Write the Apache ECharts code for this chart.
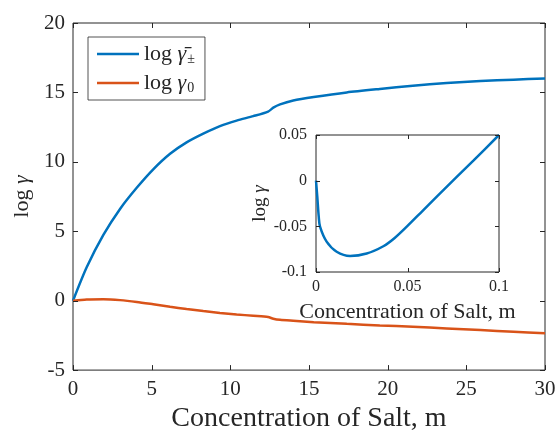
<!DOCTYPE html>
<html>
<head>
<meta charset="utf-8">
<script src="https://cdn.jsdelivr.net/npm/echarts@6/dist/echarts.min.js"></script>
<style>
  html, body { margin: 0; padding: 0; background: #fff; }
  #chart { width: 559px; height: 438px; }
</style>
</head>
<body>
<div id="chart"></div>
<script>
// Salt concentration (m) and activity coefficients over the full range
const concentration = [0, 0.87, 1.93, 2.99, 4.05, 5.1, 6.17, 7.22, 8.28, 9.34, 10.4, 11.46, 12.4, 12.73, 13.16, 14, 15.3, 17.4, 19.5, 21.6, 23.75, 25.9, 28, 30];
const logGammaMean = [0, 2.41, 4.74, 6.61, 8.13, 9.46, 10.58, 11.4, 12.03, 12.57, 12.97, 13.29, 13.62, 13.9, 14.14, 14.42, 14.67, 15.0, 15.25, 15.48, 15.68, 15.82, 15.92, 16.0];
const logGammaNeutral = [0, 0.08, 0.1, 0.04, -0.09, -0.26, -0.44, -0.6, -0.75, -0.88, -0.99, -1.09, -1.18, -1.3, -1.38, -1.45, -1.55, -1.67, -1.78, -1.88, -2.0, -2.12, -2.24, -2.35];

// Dilute region shown in the inset
const insetConcentration = [0, 0.0007, 0.0015, 0.0022, 0.0058, 0.0113, 0.0186, 0.0277, 0.0368, 0.043, 0.0496, 0.058, 0.0678, 0.086, 0.1];
const insetLogGamma = [0, -0.0175, -0.0395, -0.0504, -0.0668, -0.0778, -0.0825, -0.0798, -0.0718, -0.0628, -0.0504, -0.0335, -0.0138, 0.0219, 0.05];

// Axis ranges: [min, max, interval]
const mainXRange = [0, 30, 5];
const mainYRange = [-5, 20, 5];
const insetXRange = [0, 0.1, 0.05];
const insetYRange = [-0.1, 0.05, 0.05];

// Tick positions (drawn inward on all four sides of each box)
const mainXTicks = [0, 5, 10, 15, 20, 25, 30];
const mainYTicks = [-5, 0, 5, 10, 15, 20];
const insetXTicks = [0, 0.05, 0.1];
const insetYTicks = [-0.1, -0.05, 0, 0.05];

const seriesNames = ['log γ± (mean)', 'log γ0 (neutral)'];

const FONT = 'Liberation Serif';
const INK = '#262626';
const BLUE = '#0072BD';
const ORANGE = '#D95319';

function pairs(xs, ys) { return xs.map((x, i) => [x, ys[i]]); }
function crisp(v) { return Math.round(v) + 0.5; }

// Inward tick marks on both opposite edges, placed through the axis scales
function tickSeries(axisIdx, dir, values, xr, yr, len) {
  const data = dir === 'x'
    ? values.map(v => [v, yr[0]])
    : values.map(v => [xr[0], v]);
  return {
    type: 'custom', xAxisIndex: axisIdx, yAxisIndex: axisIdx,
    silent: true, clip: false, z: 4,
    encode: { x: 0, y: 1 },
    data: data,
    renderItem: function (params, api) {
      const st = { stroke: INK, lineWidth: 1 };
      if (dir === 'x') {
        const v = api.value(0);
        const lo = api.coord([v, yr[0]]);
        const hi = api.coord([v, yr[1]]);
        const x = crisp(lo[0]);
        return { type: 'group', children: [
          { type: 'line', shape: { x1: x, y1: lo[1], x2: x, y2: lo[1] - len }, style: st },
          { type: 'line', shape: { x1: x, y1: hi[1], x2: x, y2: hi[1] + len }, style: st }
        ] };
      }
      const v = api.value(1);
      const lo = api.coord([xr[0], v]);
      const hi = api.coord([xr[1], v]);
      const y = crisp(lo[1]);
      return { type: 'group', children: [
        { type: 'line', shape: { x1: lo[0], y1: y, x2: lo[0] + len, y2: y }, style: st },
        { type: 'line', shape: { x1: hi[0], y1: y, x2: hi[0] - len, y2: y }, style: st }
      ] };
    }
  };
}

function baseAxis(extra) {
  return Object.assign({
    type: 'value',
    axisLine: { show: false, onZero: false },
    axisTick: { show: false },
    splitLine: { show: false }
  }, extra);
}

const chart = echarts.init(document.getElementById('chart'));

const labelRich = {
  r: { fontFamily: FONT, fontSize: 22, color: INK },
  g: { fontFamily: FONT, fontSize: 22, fontStyle: 'italic', color: INK }
};
const insetRich = {
  r: { fontFamily: FONT, fontSize: 19, color: INK },
  g: { fontFamily: FONT, fontSize: 19, fontStyle: 'italic', color: INK }
};

chart.setOption({
  animation: false,
  grid: [
    { left: 73, top: 23, width: 472, height: 354,
      show: true, backgroundColor: 'transparent', borderColor: INK, borderWidth: 1 },
    { left: 316, top: 135, width: 183, height: 137,
      show: true, backgroundColor: '#fff', borderColor: INK, borderWidth: 1 }
  ],
  legend: {
    data: seriesNames,
    orient: 'vertical',
    left: 88, top: 37,
    padding: [5, 10, 5, 9],
    itemGap: 5,
    itemWidth: 42,
    itemHeight: 14,
    backgroundColor: '#fff',
    borderColor: INK,
    borderWidth: 0.8,
    borderRadius: 0,
    icon: 'path://M0,6 L42,6 L42,8.5 L0,8.5 Z',
    formatter: function (name) {
      return name === seriesNames[0]
        ? '{r|log }{g|γ̄}{s|±}'
        : '{r|log }{g|γ}{s|0}';
    },
    textStyle: {
      fontFamily: FONT, fontSize: 22, color: INK, lineHeight: 24,
      rich: {
        r: { fontFamily: FONT, fontSize: 22, color: INK },
        g: { fontFamily: FONT, fontSize: 22, fontStyle: 'italic', color: INK },
        s: { fontFamily: FONT, fontSize: 14, color: INK, padding: [10, 0, 0, 1] }
      }
    }
  },
  xAxis: [
    baseAxis({
      gridIndex: 0, position: 'bottom',
      min: mainXRange[0], max: mainXRange[1], interval: mainXRange[2],
      axisLabel: { show: true, margin: 9, fontFamily: FONT, fontSize: 21, color: INK },
      name: 'Concentration of Salt, m', nameLocation: 'middle', nameGap: 17,
      nameTextStyle: { fontFamily: FONT, fontSize: 28, color: INK }
    }),
    baseAxis({
      gridIndex: 1, position: 'bottom',
      min: insetXRange[0], max: insetXRange[1], interval: insetXRange[2],
      axisLabel: { show: true, margin: 7, fontFamily: FONT, fontSize: 16, color: INK },
      name: 'Concentration of Salt, m', nameLocation: 'middle', nameGap: 29,
      nameTextStyle: { fontFamily: FONT, fontSize: 22, color: INK }
    })
  ],
  yAxis: [
    baseAxis({
      gridIndex: 0, position: 'left',
      min: mainYRange[0], max: mainYRange[1], interval: mainYRange[2],
      axisLabel: { show: true, margin: 8, fontFamily: FONT, fontSize: 21, color: INK },
      name: '{r|log }{g|γ}', nameLocation: 'middle', nameGap: 33,
      nameTextStyle: { rich: labelRich }
    }),
    baseAxis({
      gridIndex: 1, position: 'left',
      min: insetYRange[0], max: insetYRange[1], interval: insetYRange[2],
      axisLabel: { show: true, margin: 9, fontFamily: FONT, fontSize: 16, color: INK },
      name: '{r|log }{g|γ}', nameLocation: 'middle', nameGap: 44,
      nameTextStyle: { rich: insetRich }
    })
  ],
  series: [
    {
      name: seriesNames[0], type: 'line', xAxisIndex: 0, yAxisIndex: 0,
      data: pairs(concentration, logGammaMean),
      showSymbol: false, smooth: 0.25,
      lineStyle: { color: BLUE, width: 2.5 }, itemStyle: { color: BLUE }
    },
    {
      name: seriesNames[1], type: 'line', xAxisIndex: 0, yAxisIndex: 0,
      data: pairs(concentration, logGammaNeutral),
      showSymbol: false, smooth: 0.25,
      lineStyle: { color: ORANGE, width: 2.5 }, itemStyle: { color: ORANGE }
    },
    {
      name: 'inset', type: 'line', xAxisIndex: 1, yAxisIndex: 1,
      data: pairs(insetConcentration, insetLogGamma),
      showSymbol: false, smooth: 0.3,
      lineStyle: { color: BLUE, width: 2.5 }, itemStyle: { color: BLUE }
    },
    tickSeries(0, 'x', mainXTicks, mainXRange, mainYRange, 5),
    tickSeries(0, 'y', mainYTicks, mainXRange, mainYRange, 5),
    tickSeries(1, 'x', insetXTicks, insetXRange, insetYRange, 4),
    tickSeries(1, 'y', insetYTicks, insetXRange, insetYRange, 4)
  ]
});
</script>
</body>
</html>
